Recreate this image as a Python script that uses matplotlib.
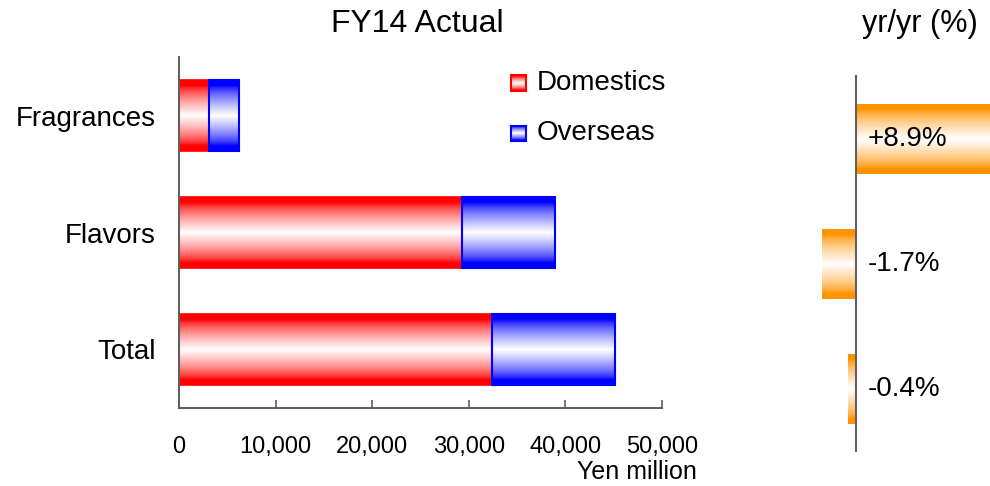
import numpy as np
import matplotlib
matplotlib.use("Agg")
import matplotlib.pyplot as plt
from matplotlib.colors import to_rgb

plt.rcParams['font.family'] = ['Liberation Sans', 'DejaVu Sans']

# sales, yen million
categories = ['Total', 'Flavors', 'Fragrances']
domestics = [32400, 29300, 3100]
overseas = [12700, 9600, 3100]
# change vs previous year, %
yoy = [-0.4, -1.7, 8.9]
yoy_labels = ['-0.4%', '-1.7%', '+8.9%']

RED = '#ff0000'
BLUE = '#0000ff'
ORANGE = '#ff9200'
AXIS = '#606060'


def gradient(color, n=64):
    # full colour at top and bottom edges, white through the middle
    t = np.linspace(0, 1, n)
    d = np.abs(2 * t - 1)
    f = np.clip(1 - d / 0.85, 0, 1) ** 0.7
    rgb = np.array(to_rgb(color))
    img = rgb[None, :] * (1 - f[:, None]) + f[:, None]
    return img[:, None, :]


def fill_gradient(ax, patches, color):
    for p in patches:
        x, y, w, h = p.get_x(), p.get_y(), p.get_width(), p.get_height()
        im = ax.imshow(gradient(color), extent=(x, x + w, y, y + h),
                       aspect='auto', interpolation='bilinear', zorder=1.5)
        im.set_clip_path(p)


fig = plt.figure(figsize=(9.9, 4.86), dpi=100)

# left: stacked sales bars
ax = fig.add_axes([0.1808, 0.1605, 0.4879, 0.7222])
ypos = np.arange(len(categories))
b1 = ax.barh(ypos, domestics, height=0.6, facecolor='none',
             edgecolor=RED, linewidth=1.2, zorder=2)
b2 = ax.barh(ypos, overseas, left=domestics, height=0.6, facecolor='none',
             edgecolor=BLUE, linewidth=1.5, zorder=2)
fill_gradient(ax, b1, RED)
fill_gradient(ax, b2, BLUE)

ax.set_xlim(0, 50000)
ax.set_ylim(-0.5, 2.5)
ax.set_xticks(np.arange(0, 50001, 10000))
ax.set_xticklabels(['0', '10,000', '20,000', '30,000', '40,000', '50,000'])
ax.set_yticks(ypos)
ax.set_yticklabels(categories)
ax.tick_params(axis='x', direction='in', length=6, width=1.2, color=AXIS,
               labelsize=17, pad=20)
ax.tick_params(axis='y', length=0, labelsize=20, pad=17)
for s in ['top', 'right']:
    ax.spines[s].set_visible(False)
for s in ['left', 'bottom']:
    ax.spines[s].set_color(AXIS)
    ax.spines[s].set_linewidth(1.5)
ax.text(1.073, -0.183, 'Yen million', transform=ax.transAxes,
        ha='right', va='center', fontsize=18)

# legend swatches
for yy, name, col in [(0.926, 'Domestics', RED), (0.783, 'Overseas', BLUE)]:
    sw = ax.inset_axes([0.687, yy - 0.0215, 0.031, 0.043])
    sw.imshow(gradient(col), aspect='auto', interpolation='bilinear')
    sw.set_xticks([])
    sw.set_yticks([])
    for s in sw.spines.values():
        s.set_color(col)
        s.set_linewidth(1.5)
    ax.text(0.741, yy, name, transform=ax.transAxes, ha='left',
            va='center', fontsize=20)

fig.text(417 / 990, 1 - 24 / 486, 'FY14 Actual', ha='center', va='center',
         fontsize=23)

# right: year on year change
ax2 = fig.add_axes([0.8182, 0.0720, 0.1818, 0.7716])
r = ax2.barh(ypos, yoy, height=0.56, facecolor='none', edgecolor='none',
             zorder=2)
fill_gradient(ax2, r, ORANGE)
ax2.set_xlim(-2.3, 6.7)
ax2.set_ylim(-0.5, 2.5)
for i, lab in enumerate(yoy_labels):
    ax2.text(0.6, ypos[i], lab, ha='left', va='center', fontsize=20,
             zorder=3)
ax2.set_xticks([])
ax2.set_yticks([])
for s in ['top', 'right', 'bottom']:
    ax2.spines[s].set_visible(False)
ax2.spines['left'].set_position(('data', 0))
ax2.spines['left'].set_color(AXIS)
ax2.spines['left'].set_linewidth(1.5)
ax2.spines['left'].set_zorder(4)

fig.text(920 / 990, 1 - 24 / 486, 'yr/yr (%)', ha='center', va='center',
         fontsize=22)

fig.savefig('out.png', dpi=100)
